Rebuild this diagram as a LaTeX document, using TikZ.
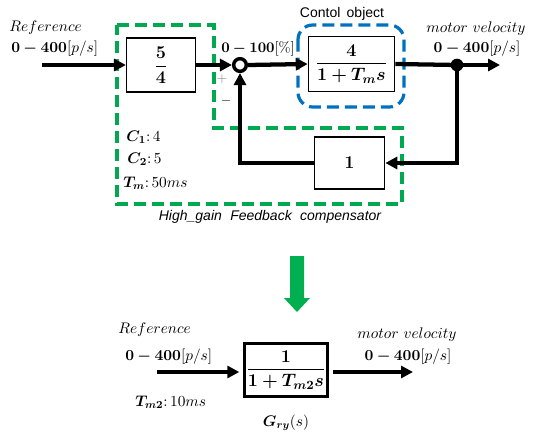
\RequirePackage{fix-cm}
\documentclass[tikz,border=0pt]{standalone}
\usepackage{fontspec}
\usepackage{amsmath,bm}
\newfontfamily\arialf{Liberation Sans}
\usetikzlibrary{arrows.meta}
\definecolor{gdash}{RGB}{0,168,80}
\definecolor{bdash}{RGB}{0,112,192}
\definecolor{garrow}{RGB}{0,176,80}
\begin{document}
\begin{tikzpicture}[x=0.75pt,y=-0.75pt,
  sig/.style={line width=3.2pt,-{Triangle[length=9pt,width=9pt]}},
  wire/.style={line width=3.2pt},
  blk/.style={draw,line width=1.2pt,inner sep=0pt,font=\fontsize{13.5}{15}\selectfont},
  lbl/.style={inner sep=0pt,font=\fontsize{11.5}{13}\selectfont},
  sans/.style={inner sep=0pt,font=\arialf\fontsize{10.5}{12}\selectfont},
  gbox/.style={draw=gdash,line width=2.4pt,dash pattern=on 9pt off 4.5pt},
  bbox/.style={draw=bdash,line width=2.4pt,dash pattern=on 9pt off 4.5pt,rounded corners=11pt}]
\useasboundingbox (0,0) rectangle (544,440);
% dashed groups
\draw[gbox] (117,25) -- (214,25) -- (214,128) -- (402,128) -- (402,204) -- (117,204) -- cycle;
\draw[bbox] (298,25) rectangle (404,107);
% blocks
\node[blk,minimum width=51.5pt,minimum height=40.5pt] (k) at (161,65) {$\displaystyle\frac{\bm{5}}{\bm{4}}$};
\node[blk,minimum width=64.5pt,minimum height=41pt] (G) at (351.5,64) {$\displaystyle\frac{\bm{4}}{\bm{1+T_m s}}$};
\node[blk,minimum width=52.5pt,minimum height=39pt] (H) at (349.5,163) {$\bm{1}$};
\node[circle,draw,line width=2.6pt,fill=white,minimum size=9.5pt,inner sep=0pt] (sum) at (240,65) {};
\node[circle,fill,minimum size=9.5pt,inner sep=0pt] (dot) at (457,65) {};
\coordinate (in) at (42,65);
\coordinate (out) at (500,65);
% connectors
\draw[sig] (in) -- (k.west);
\draw[sig] (k.east) -- (sum.west);
\draw[sig] (sum.east) -- (G.west);
\draw[wire] (G.east) -- (dot.center);
\draw[sig] (dot.center) -- (out);
\draw[sig] (dot.center) |- (H.east);
\draw[sig] (H.west) -| (sum.south);
% labels
\node[lbl,anchor=west] (ref) at (9,28) {$Reference$};
\node[lbl,anchor=west] (rng1) at (11,49) {$\bm{0-400}[p/s]$};
\node[lbl,anchor=west,font=\fontsize{11}{13}\selectfont] (rng2) at (221,49) {$\bm{0-100}[\%]$};
\node[lbl] (mv) at (476,29) {$motor\ velocity$};
\node[lbl] (rng3) at (477,49) {$\bm{0-400}[p/s]$};
\node[lbl,font=\fontsize{10}{12}\selectfont,text=gray] (plus) at (222,79) {$+$};
\node[lbl,font=\fontsize{10}{12}\selectfont] (minus) at (226,101) {$-$};
\node[lbl,anchor=west] (c1) at (126,137) {$\bm{C_1}\mathpunct{:}4$};
\node[lbl,anchor=west] (c2) at (127,159) {$\bm{C_2}\mathpunct{:}5$};
\node[lbl,anchor=west] (tm) at (123,183) {$\bm{T_m}\mathpunct{:}50ms$};
\node[sans] (co) at (342,14) {Contol\hspace{0.45em}object};
\node[sans,font=\arialf\itshape\fontsize{10.5}{12}\selectfont] (hg) at (270,217) {High\_gain\hspace{0.6em}Feedback\hspace{0.6em}compensator};
% transformation arrow
\fill[garrow] (290,256) -- (304,256) -- (304,298) -- (310,298) -- (297,312) -- (284,298) -- (290,298) -- cycle;
% bottom system
\node[blk,line width=2pt,minimum width=62pt,minimum height=39.75pt] (G2) at (286,370) {$\displaystyle\frac{\bm{1}}{\bm{1+T_{m2}s}}$};
\coordinate (in2) at (157,372);
\coordinate (out2) at (413,372);
\draw[sig,shorten >=3pt] (in2) -- (in2 -| G2.west);
\draw[sig,shorten <=3pt] (out2 -| G2.east) -- (out2);
\node[lbl,anchor=west] (ref2) at (118,330) {$Reference$};
\node[lbl,anchor=west] (rng4) at (125,357) {$\bm{0-400}[p/s]$};
\node[lbl] (mv2) at (407,335) {$motor\ velocity$};
\node[lbl] (rng5) at (408,357) {$\bm{0-400}[p/s]$};
\node[lbl,anchor=west] (tm2) at (135,402) {$\bm{T_{m2}}\mathpunct{:}10ms$};
\node[lbl] (gry) at (286,423) {$\bm{G_{ry}}(s)$};
\end{tikzpicture}
\end{document}
